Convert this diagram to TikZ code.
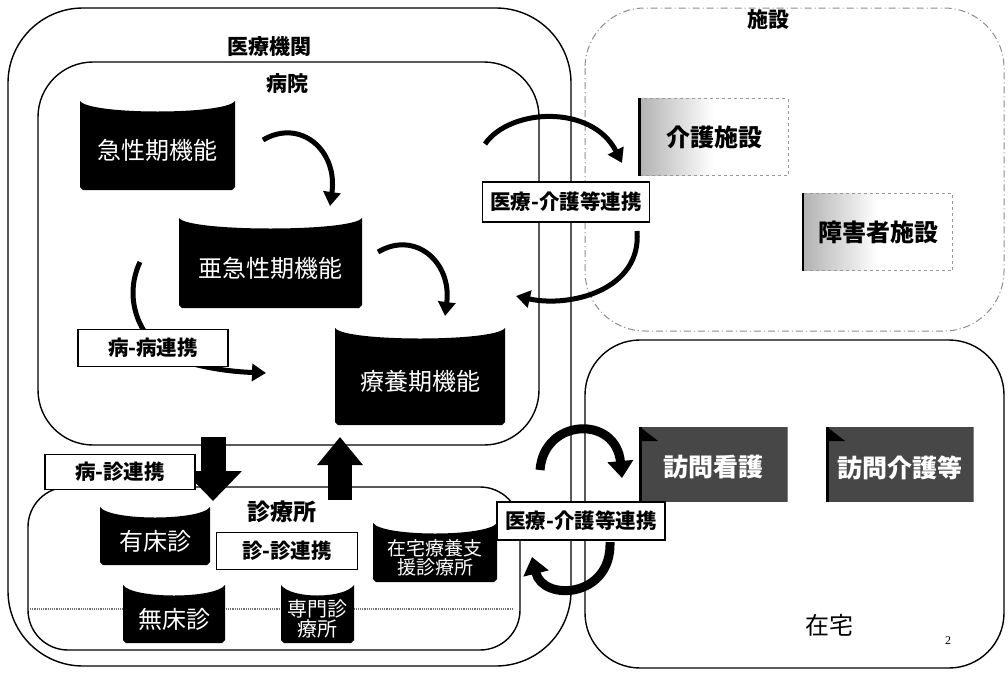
\documentclass[tikz,border=0pt]{standalone}
\usepackage{fontspec}
\setmainfont{Noto Sans CJK JP}
\newfontfamily\serifnum{Liberation Serif}
\usetikzlibrary{arrows.meta}
\tikzset{
  cont/.style={draw=black, line width=1.4pt},
  faint/.style={draw=black!45, line width=1pt, dash pattern=on 7pt off 3pt on 1pt off 3pt},
  lbl/.style={font=\bfseries\fontsize{21}{23}\selectfont, inner sep=0pt},
  linkbox/.style={draw=black, fill=white, line width=1.8pt, font=\bfseries\fontsize{20.5}{22}\selectfont, minimum height=37pt, inner xsep=5pt},
  darktext/.style={text=white, align=center, inner sep=0pt},
  graytext/.style={text=white, font=\bfseries\fontsize{25}{28}\selectfont, inner sep=0pt},
  facbox/.style={draw=black!40, dashed, line width=0.8pt, left color=black!30, right color=white, middle color=white, font=\bfseries\fontsize{24}{26}\selectfont},
  carrow/.style={line width=5pt, -{Triangle[width=17pt,length=14pt]}},
  barrow/.style={line width=9pt, -{Triangle[width=25pt,length=17pt]}},
  blockdown/.style={line width=25pt, -{Triangle[width=56pt,length=30pt]}},
  blockup/.style={line width=24pt, -{Triangle[width=44pt,length=28pt]}},
}
\newcommand{\darkbox}[7]{%
  \fill[black] (#2,#3) -- (#2,{#5-3}) -- ({#2+3},#5) -- ({#4-3},#5) -- (#4,{#5-3}) -- (#4,#3)
     .. controls ({#4-10},{#3+14}) and ({#2+10},{#3+14}) .. (#2,#3) -- cycle;
  \node[darktext, font=\fontsize{#7}{#7}\selectfont] (#1) at ({(#2+#4)/2},{(#3+#5)/2+5}) {#6};
}
\newcommand{\graybox}[6]{%
  \fill[black!72] (#2,#3) rectangle (#4,#5);
  \draw[black, line width=3pt] (#2,#3) -- (#2,#5);
  \draw[black!50, line width=0.8pt] (#4,#3) -- (#4,#5);
  \fill[black] (#2,#3) -- ({#2+18},{#3+14}) -- (#2,{#3+14}) -- cycle;
  \node[graytext] (#1) at ({(#2+#4)/2},{(#3+#5)/2+3}) {#6};
}
\begin{document}
\begin{tikzpicture}[x=1pt,y=-1pt]
\useasboundingbox (0,0) rectangle (1008,672);
\fill[white] (0,0) rectangle (1008,672);

% containers
\draw[cont, rounded corners=75pt] (8,8) rectangle (571,666);
\draw[cont, rounded corners=55pt] (38,62) rectangle (539,445);
\draw[cont, rounded corners=40pt] (28,487) rectangle (520,650);
\draw[faint, rounded corners=60pt] (585,8) rectangle (1004,331);
\draw[cont, rounded corners=55pt] (585,340) rectangle (1004,668);
\draw[black!55, line width=1.2pt, densely dotted] (30,609) -- (512,609);

% container labels
\node[lbl] (iryo) at (269,47) {医療機関};
\node[lbl] (byoin) at (287,84) {病院};
\node[lbl, font=\bfseries\fontsize{23}{25}\selectfont] (shinryo) at (282,512) {診療所};
\node[lbl] (shisetsu) at (768,20) {施設};
\node[font=\fontsize{24}{26}\selectfont, inner sep=0pt] (zaitaku) at (829,625) {在宅};
\node[font=\serifnum\fontsize{12}{14}\selectfont, inner sep=0pt] (pnum) at (948,641) {2};

% hospital functions
\darkbox{kyusei}{80}{101}{235}{190}{急性期機能}{24}
\darkbox{akyusei}{179}{218}{362}{308}{亜急性期機能}{24}
\darkbox{ryoyo}{335}{328}{505}{425}{療養期機能}{24}

% clinics
\darkbox{yusho}{100}{507}{210}{565}{有床診}{24}
\darkbox{musho}{123}{585}{225}{643}{無床診}{24}
\darkbox{senmon}{281}{585}{354}{643}{専門診\\療所}{20}
\darkbox{zaitakushien}{373}{523}{497}{582}{在宅療養支\\援診療所}{19}

% facilities
\node[facbox, minimum width=148pt, minimum height=77pt] (kaigo) at (714,137) {介護施設};
\draw[black, line width=2.5pt] (kaigo.north west) -- (kaigo.south west);
\node[facbox, minimum width=149pt, minimum height=77pt] (shogai) at (878,232) {障害者施設};
\draw[black, line width=2.5pt] (shogai.north west) -- (shogai.south west);

% home services
\graybox{homon}{640}{427}{787}{502}{訪問看護}
\graybox{homonkaigo}{827}{427}{973}{502}{訪問介護等}

% curved arrows inside hospital
\coordinate (a1s) at (263,140); \coordinate (a1e) at (330,206);
\coordinate (a2s) at (378,252); \coordinate (a2e) at (445,316);
\coordinate (a3s) at (140,262); \coordinate (a3e) at (266,373);
\draw[carrow] (a1s) .. controls (300,118) and (338,150) .. (a1e);
\draw[carrow] (a2s) .. controls (415,230) and (452,262) .. (a2e);
\draw[carrow] (a3s) .. controls (122,300) and (140,345) .. (180,360) .. controls (210,370) and (240,372) .. (a3e);

% medical-care arrows (top)
\coordinate (t1s) at (485,144); \coordinate (t1e) at (622,163);
\coordinate (t2s) at (637,231); \coordinate (t2e) at (516,296);
\draw[carrow] (t1s) .. controls (510,108) and (592,104) .. (t1e);
\draw[carrow] (t2s) .. controls (642,290) and (570,308) .. (t2e);

% medical-care arrows (bottom)
\coordinate (b1s) at (540,470); \coordinate (b1e) at (622,478);
\coordinate (b2s) at (610,542); \coordinate (b2e) at (532,557);
\draw[barrow] (b1s) .. controls (544,418) and (616,415) .. (b1e);
\draw[barrow] (b2s) .. controls (612,598) and (543,602) .. (b2e);

% block arrows between hospital and clinic
\coordinate (dns) at (213,437); \coordinate (dne) at (213,501);
\coordinate (ups) at (340,500); \coordinate (upe) at (340,437);
\draw[blockdown] (dns) -- (dne);
\draw[blockup] (ups) -- (upe);

% link labels
\node[linkbox, minimum width=150pt] (byobyo) at (153,348) {病-病連携};
\node[linkbox, minimum width=150pt, minimum height=35pt] (byoshin) at (120,472) {病-診連携};
\node[linkbox, minimum width=141pt] (shinshin) at (287,551) {診-診連携};
\node[linkbox, minimum width=167pt, minimum height=40pt] (ikaigo1) at (566,202) {医療-介護等連携};
\node[linkbox, minimum width=168pt, minimum height=38pt] (ikaigo2) at (581,521) {医療-介護等連携};
\end{tikzpicture}
\end{document}
